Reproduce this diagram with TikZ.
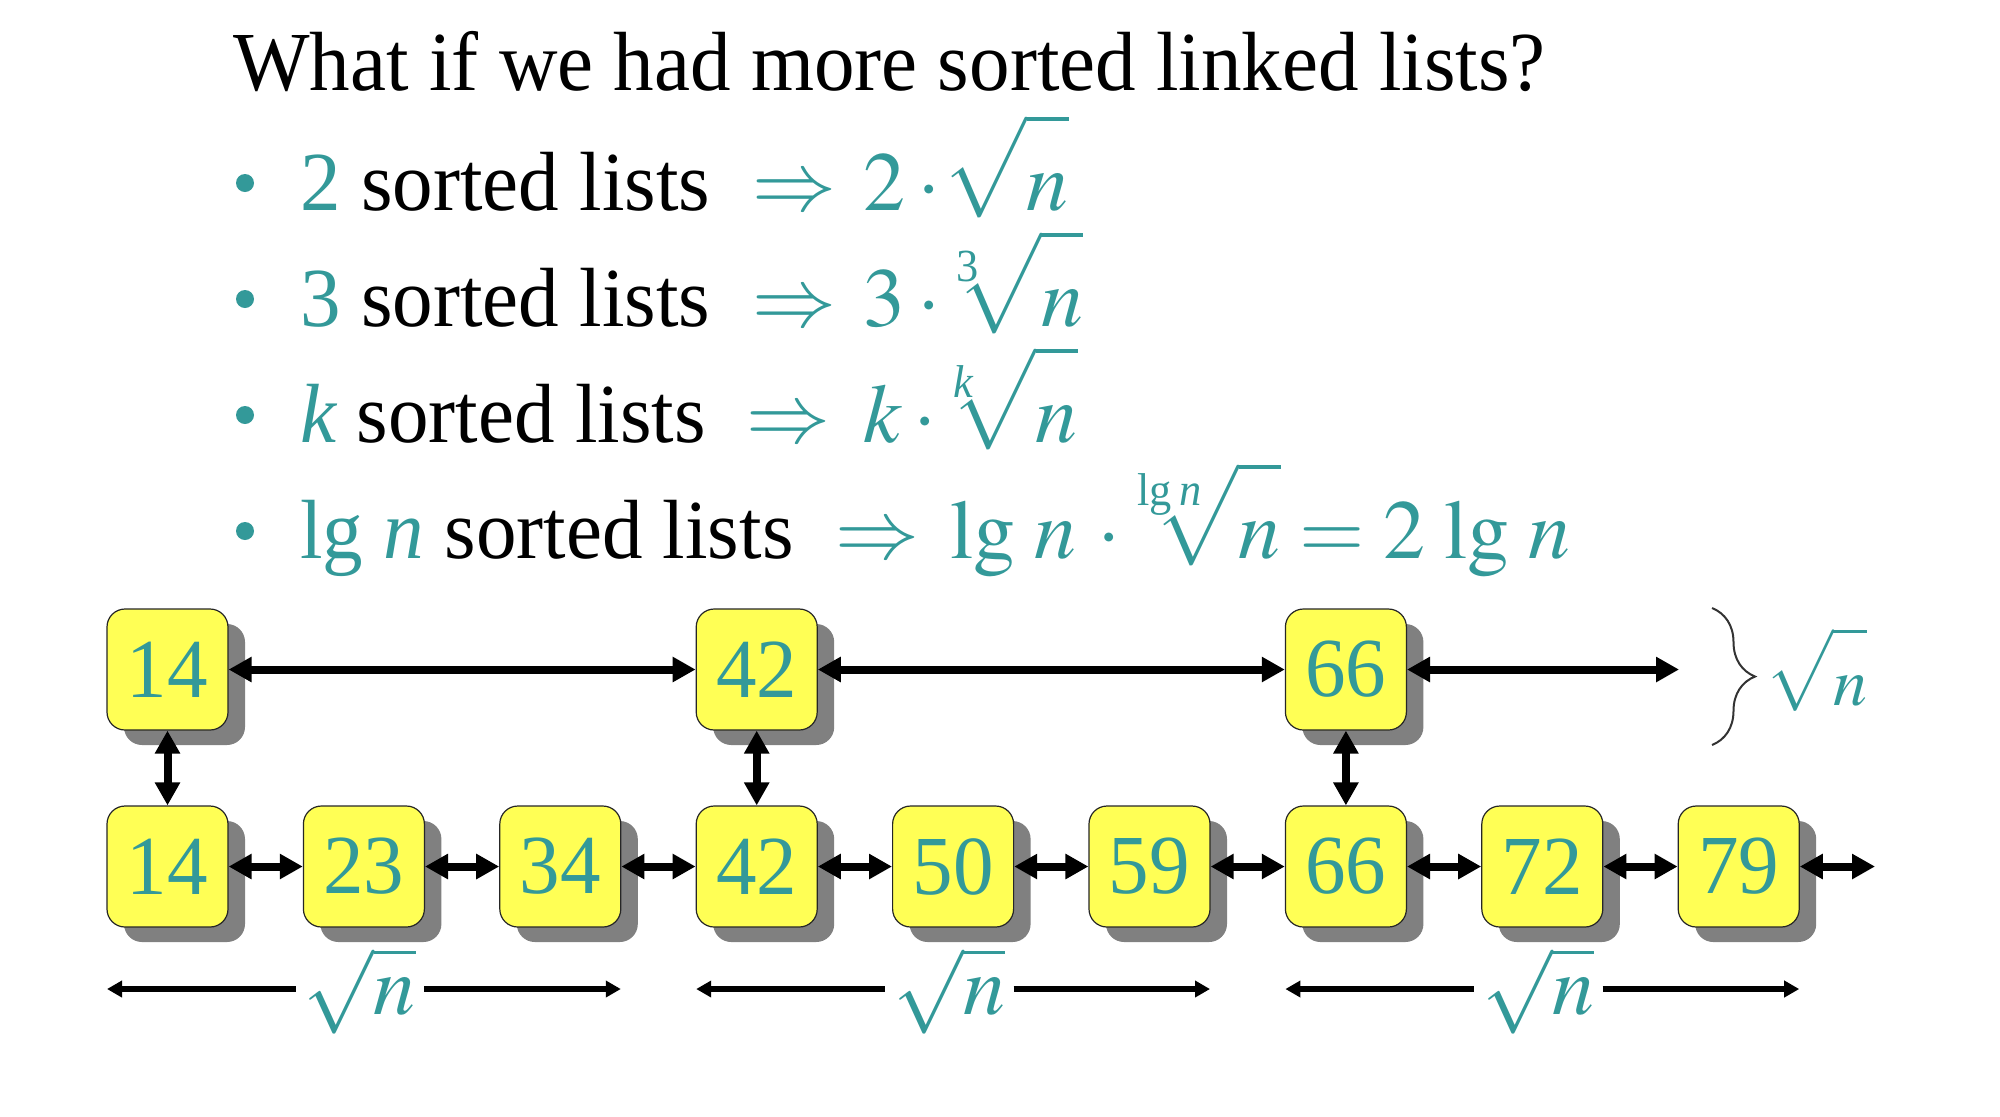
\documentclass[tikz,border=0pt]{standalone}
\usepackage{mathptmx}
\usepackage{fontspec}
\setmainfont{Liberation Serif}[FakeStretch=0.965]
\usetikzlibrary{arrows.meta,shadows,decorations.pathreplacing}
\definecolor{accent}{RGB}{51,153,153}
\definecolor{boxyellow}{RGB}{255,255,85}
\definecolor{shadowgray}{RGB}{128,128,128}
\newcommand\rtstrut{\rule{0pt}{0.93em}}
\newcommand\smallidx[1]{\mbox{\fontsize{23}{23}\selectfont #1}}
\tikzset{
  txt/.style={inner sep=0pt, anchor=base west, font=\fontsize{42}{50}\selectfont},
  mth/.style={txt, text=accent},
  dot/.style={circle, fill=accent, minimum size=9pt, inner sep=0pt},
  box/.style={draw=black!85, line width=0.6pt, fill=boxyellow, rounded corners=9pt,
    minimum width=60.5pt, minimum height=60.5pt, inner sep=0pt, text=accent,
    font=\fontsize{42}{42}\selectfont,
    drop shadow={shadow xshift=8.5pt, shadow yshift=-7.5pt, fill=shadowgray, opacity=1}},
  link/.style={line width=4pt, {Triangle[length=11.5pt,width=12pt]}-{Triangle[length=11.5pt,width=12pt]}},
  span/.style={line width=2.8pt, -{Triangle[length=7.5pt,width=8pt]}},
  bracestyle/.style={decorate, decoration={brace, amplitude=21.5pt}, line width=1pt, draw=black!80},
  lab/.style={inner xsep=4pt, inner ysep=0pt, text=accent, font=\fontsize{42}{50}\selectfont},
}
\begin{document}
\begin{tikzpicture}[x=0.5pt,y=-0.5pt]
\useasboundingbox (0,0) rectangle (2000,1116);
% title
\node[txt] (title) at (233,90) {What if we had more sorted linked lists?};
% bullets
\node[dot] (d1) at (245,183) {};
\node[dot] (d2) at (245,299) {};
\node[dot] (d3) at (245,415) {};
\node[dot] (d4) at (245,531) {};
% line 1
\node[txt] (l1t) at (300,210) {\textcolor{accent}{2} sorted lists};
\node[mth] (l1a) at (752,210) {$\Rightarrow$};
\node[mth] (l1f) at (863,210) {$2\cdot\!\sqrt{\rtstrut n}$};
% line 2
\node[txt] (l2t) at (300,326) {\textcolor{accent}{3} sorted lists};
\node[mth] (l2a) at (752,326) {$\Rightarrow$};
\node[mth] (l2f) at (863,326) {$3\cdot\!\!\sqrt[\smallidx{\raisebox{-4pt}{3}}\mkern9mu]{\rtstrut n}$};
% line 3
\node[txt] (l3t) at (300,442) {\textcolor{accent}{\itshape k} sorted lists};
\node[mth] (l3a) at (746,442) {$\Rightarrow$};
\node[mth] (l3f) at (863,442) {$k\cdot\!\!\sqrt[\smallidx{\raisebox{-4pt}{\itshape k}}\mkern9mu]{\rtstrut n}$};
% line 4
\node[txt] (l4t) at (300,558) {\textcolor{accent}{lg \itshape n} sorted lists};
\node[mth] (l4a) at (835,558) {$\Rightarrow$};
\node[mth] (l4f) at (950,558) {$\lg\,n\,\cdot\!\!\sqrt[\smallidx{lg\,\itshape n}]{\rtstrut n}=2\,\lg\,n$};
% boxes
\foreach \v/\i in {14/0,42/3,66/6}
  \node[box] (t\v) at ({167.5+196.4*\i},669.5) {\v};
\foreach \v/\i in {14/0,23/1,34/2,42/3,50/4,59/5,66/6,72/7,79/8}
  \node[box] (b\v) at ({167.5+196.4*\i},866.5) {\v};
\coordinate (tend) at (1679,669.5);
\coordinate (bend) at (1875,866.5);
% top links
\draw[link] (t14) -- (t42);
\draw[link] (t42) -- (t66);
\draw[link] (t66) -- (tend);
% vertical links
\draw[link] (t14) -- (b14);
\draw[link] (t42) -- (b42);
\draw[link] (t66) -- (b66);
% bottom links
\draw[link] (b14) -- (b23);
\draw[link] (b23) -- (b34);
\draw[link] (b34) -- (b42);
\draw[link] (b42) -- (b50);
\draw[link] (b50) -- (b59);
\draw[link] (b59) -- (b66);
\draw[link] (b66) -- (b72);
\draw[link] (b72) -- (b79);
\draw[link] (b79) -- (bend);
% brace
\coordinate (brtop) at (1712,608);
\coordinate (brbot) at (1712,745);
\draw[bracestyle] (brtop) -- (brbot);
\node[inner sep=0pt, anchor=base west, text=accent, font=\fontsize{34}{40}\selectfont] (brlab) at (1765,705) {$\sqrt{\rtstrut n}$};
% span arrows
\foreach \k/\i in {1/0,2/3,3/6}{
  \node[lab] (s\k) at ({163.5+196.4*(\i+1)},991) {$\sqrt{n}$};
  \coordinate (sl\k) at ({107+196.4*\i},989);
  \coordinate (sr\k) at ({228+196.4*(\i+2)},989);
  \draw[span] (s\k.west |- sl\k) -- (sl\k);
  \draw[span] (s\k.east |- sr\k) -- (sr\k);
}
\end{tikzpicture}
\end{document}
